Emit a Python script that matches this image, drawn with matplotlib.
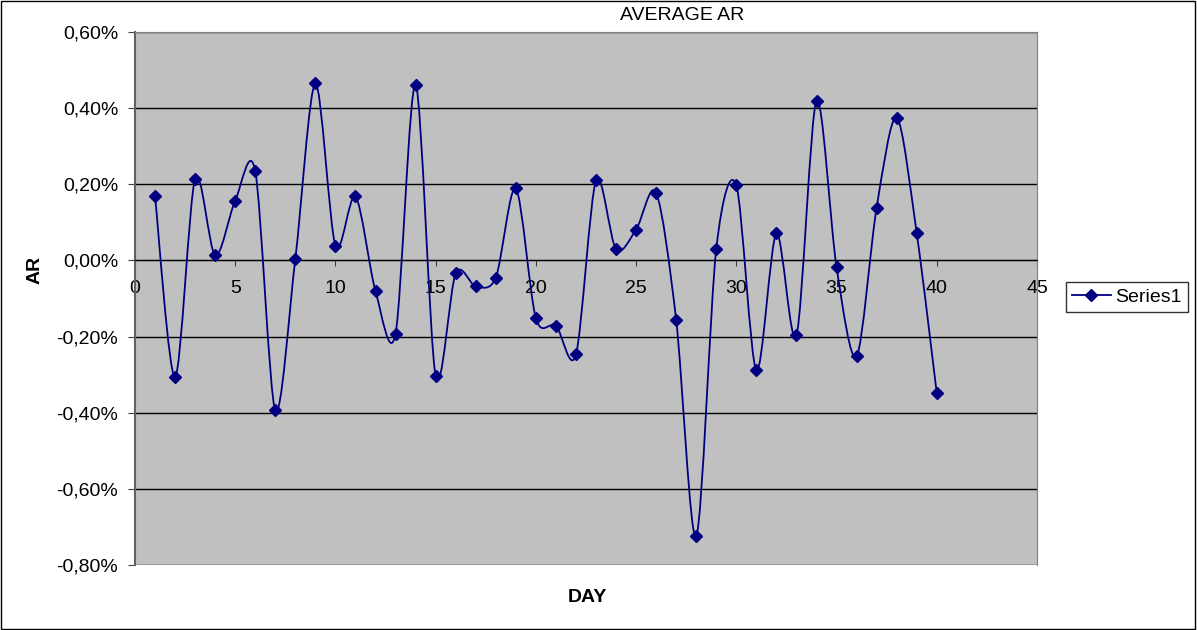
import matplotlib.pyplot as plt
import numpy as np
from matplotlib.path import Path
from matplotlib.patches import PathPatch, Rectangle
from matplotlib.lines import Line2D
from matplotlib.ticker import FuncFormatter, MultipleLocator

plt.rcParams["font.family"] = ["Liberation Sans", "DejaVu Sans"]

# average abnormal return per event day, in percent
days = list(range(1, 41))
avg_ar = [
    0.168, -0.307, 0.215, 0.013, 0.157, 0.234, -0.394, 0.005, 0.465, 0.039,
    0.168, -0.081, -0.192, 0.462, -0.304, -0.034, -0.068, -0.045, 0.189, -0.152,
    -0.171, -0.247, 0.210, 0.029, 0.081, 0.178, -0.157, -0.724, 0.031, 0.197,
    -0.289, 0.071, -0.197, 0.420, -0.018, -0.252, 0.139, 0.375, 0.071, -0.349,
]
series_name = "Series1"
LINE_COLOR = "#000080"
FS = 14


def smooth_path(x, y, k=0.15):
    """Catmull-Rom style bezier path through every point."""
    pts = np.column_stack([x, y]).astype(float)
    padded = np.vstack([pts[0], pts, pts[-1]])
    verts = [pts[0]]
    codes = [Path.MOVETO]
    for i in range(len(pts) - 1):
        p0, p1, p2, p3 = padded[i], padded[i + 1], padded[i + 2], padded[i + 3]
        verts += [p1 + (p2 - p0) * k, p2 - (p3 - p1) * k, p2]
        codes += [Path.CURVE4] * 3
    return Path(verts, codes)


fig = plt.figure(figsize=(11.97, 6.3), dpi=100)
ax = fig.add_axes([135 / 1197, 1 - 565 / 630, (1037 - 135) / 1197, (565 - 32) / 630])
ax.set_facecolor("#C0C0C0")

ax.set_xlim(0, 45)
ax.set_ylim(-0.8, 0.6)
ax.xaxis.set_major_locator(MultipleLocator(5))
ax.yaxis.set_major_locator(MultipleLocator(0.2))
ax.yaxis.set_major_formatter(
    FuncFormatter(lambda v, _: f"{v:.2f}%".replace(".", ",").replace("-0,00", "0,00"))
)
ax.grid(True, axis="y", color="black", linewidth=1)
ax.set_axisbelow(True)

ax.spines["bottom"].set_position(("data", 0))
ax.spines["bottom"].set_color("black")
ax.spines["left"].set_color("#606060")
ax.spines["left"].set_linewidth(1.5)
ax.spines["top"].set_color("#808080")
ax.spines["right"].set_color("#808080")

ax.tick_params(axis="x", direction="out", length=4, pad=10, labelsize=FS, color="#404040")
ax.tick_params(axis="y", direction="out", length=5, pad=7, labelsize=FS, color="#404040")

ax.add_patch(PathPatch(smooth_path(days, avg_ar), facecolor="none",
                       edgecolor=LINE_COLOR, linewidth=1.3, zorder=3))
ax.plot(days, avg_ar, linestyle="none", marker="D", markersize=6,
        color=LINE_COLOR, zorder=4)

fig.text(682 / 1197, 1 - 15 / 630, "AVERAGE AR", ha="center", va="center", fontsize=FS)
fig.text(587 / 1197, 1 - 597 / 630, "DAY", ha="center", va="center",
         fontsize=FS, fontweight="bold")
fig.text(35 / 1197, 1 - 270 / 630, "AR", ha="center", va="center",
         fontsize=FS, fontweight="bold", rotation=90)

handle = Line2D([], [], color=LINE_COLOR, marker="D", markersize=6, linewidth=1.3)
leg = fig.legend([handle], [series_name], loc="center left",
                 bbox_to_anchor=(1066 / 1197, 1 - 297 / 630), fontsize=FS,
                 frameon=True, fancybox=False, edgecolor="black",
                 handlelength=2.0, borderpad=0.3, handletextpad=0.25,
                 borderaxespad=0)
leg.get_frame().set_linewidth(1)

# outer chart border
fig.patches.append(Rectangle((0.001, 0.002), 0.997, 0.996, transform=fig.transFigure,
                             fill=False, edgecolor="black", linewidth=1))

fig.savefig("out.png", dpi=100)
